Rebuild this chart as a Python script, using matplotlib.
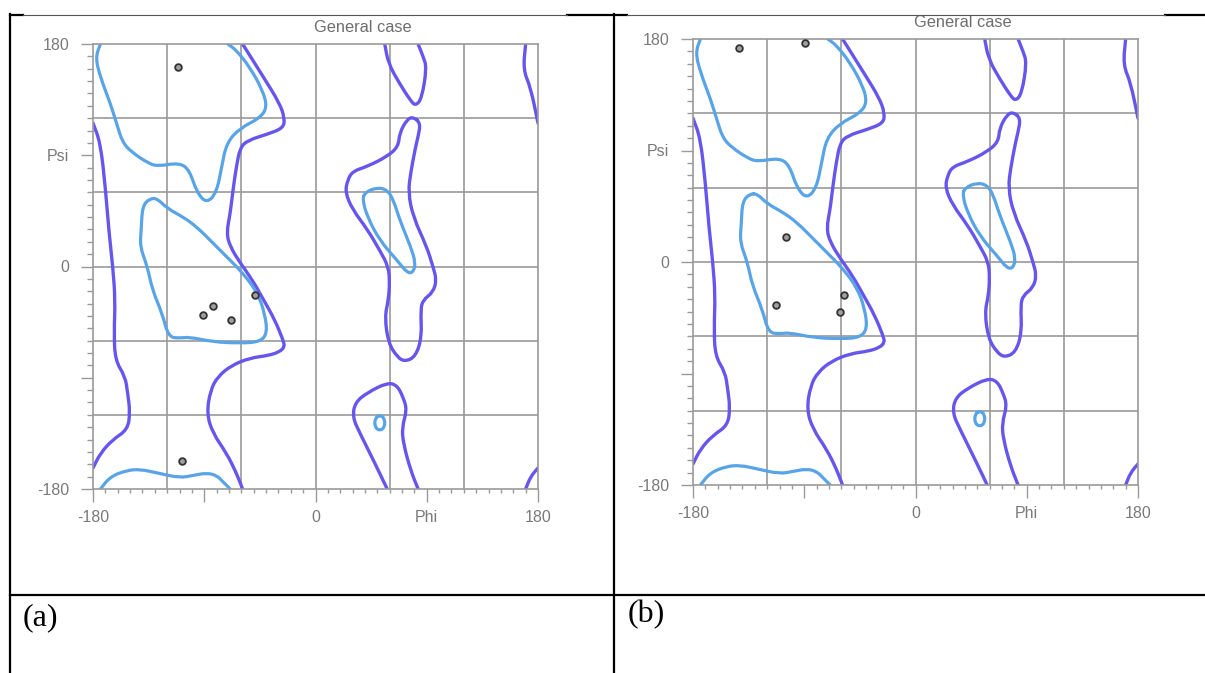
import numpy as np
import matplotlib.pyplot as plt
from matplotlib.lines import Line2D
from matplotlib.path import Path
from matplotlib.patches import PathPatch

plt.rcParams['font.family'] = ['Liberation Sans', 'DejaVu Sans']

# Contours of the "General case" background, as (phi, psi) vertices
allowed_left = [(-180, 116), (-174, 100), (-170, 64), (-167, 27), (-164, 0), (-162, -27),
                (-163, -54), (-162, -76), (-154, -89), (-152, -102), (-150, -118),
                (-152, -132), (-164, -140), (-174, -151), (-180, -163)]
allowed_right = [(-59, 180), (-42, 153), (-29, 132), (-25, 120), (-26, 112), (-39, 107),
                 (-55, 102), (-61, 96), (-64, 81), (-67, 60), (-69, 43), (-72, 27),
                 (-69, 16), (-61, 3), (-51, -11), (-42, -27), (-33, -43), (-26, -60),
                 (-25, -65), (-29, -69), (-38, -72), (-53, -74), (-68, -80), (-79, -89),
                 (-85, -100), (-88, -119), (-83, -135), (-72, -151), (-64, -167), (-59, -180)]
allowed_l_top = [(56, 180), (59, 164), (68, 148), (77, 134), (81, 130), (86, 136),
                 (90, 161), (87, 170), (83, 180)]
allowed_l_mid = [(79, 121), (74, 119), (68, 108), (67, 97), (58, 89), (42, 81), (30, 77),
                 (26, 70), (24, 60), (30, 46), (42, 30), (52, 13), (59, 0), (60, -13),
                 (59, -27), (56, -41), (59, -62), (66, -73), (72, -77), (81, -73),
                 (86, -57), (85, -35), (87, -27), (95, -21), (98, -11), (95, 0),
                 (90, 16), (79, 40), (75, 60), (77, 76), (81, 97), (83, 105),
                 (85, 116), (79, 121)]
allowed_l_low = [(58, -180), (47, -157), (36, -135), (30, -122), (32, -110), (42, -102),
                 (58, -94), (66, -96), (71, -106), (74, -116), (70, -130), (71, -143),
                 (77, -165), (83, -180)]
allowed_edge_top = [(170, 180), (168, 159), (174, 145), (180, 116)]
allowed_edge_bottom = [(170, -180), (174, -170), (180, -163)]

favored_beta_top = [(-174, 180), (-178, 169), (-174, 153), (-166, 132), (-161, 116),
                    (-156, 100), (-148, 92), (-136, 84), (-128, 81), (-110, 84),
                    (-102, 78), (-96, 60), (-88, 51), (-80, 60), (-76, 80), (-72, 100),
                    (-61, 112), (-45, 120), (-39, 129), (-43, 143), (-53, 161),
                    (-64, 175), (-71, 180)]
favored_beta_bottom = [(-174, -180), (-166, -170), (-153, -165), (-142, -164),
                       (-128, -167), (-110, -171), (-99, -169), (-88, -167),
                       (-80, -169), (-75, -174), (-69, -180)]
favored_alpha = [(-134, 55), (-140, 49), (-141, 30), (-142, 16), (-136, 0), (-132, -19),
                 (-124, -38), (-119, -57), (-110, -58), (-102, -57), (-83, -61),
                 (-61, -62), (-45, -61), (-39, -54), (-41, -38), (-47, -21), (-59, -5),
                 (-72, 8), (-83, 19), (-96, 32), (-107, 40), (-120, 47), (-128, 55),
                 (-134, 55)]
favored_l = [(40, 60), (50, 64), (58, 62), (63, 54), (68, 38), (77, 16), (81, 3),
             (79, -5), (74, -5), (66, 5), (52, 21), (42, 40), (38, 54), (40, 60)]
favored_small = [(52, -120), (56, -123), (56, -130), (52, -133), (48, -130),
                 (48, -123), (52, -120)]

allowed = [allowed_left, allowed_right, allowed_l_top, allowed_l_mid, allowed_l_low,
           allowed_edge_top, allowed_edge_bottom]
favored = [favored_beta_top, favored_beta_bottom, favored_alpha, favored_l, favored_small]

# Residues
phi_a = [-111, -49, -83, -91, -68, -108]
psi_a = [161, -23, -32, -39, -43, -157]
phi_b = [-143, -89, -105, -58, -113, -61]
psi_b = [173, 177, 20, -27, -35, -40]

major_ticks = [-180, -90, 0, 90, 180]
x_labels = ['-180', '', '0', 'Phi', '180']
y_labels = ['-180', '', '0', 'Psi', '180']

DARK = '#6656ee'
LIGHT = '#58a4e6'
GRID = '#9a9a9a'
TXT = '#7a7a7a'

W, H = 1205, 673
fig = plt.figure(figsize=(W / 100, H / 100), dpi=100)


def box(x0, y0, x1, y1):
    return [x0 / W, 1 - y1 / H, (x1 - x0) / W, (y1 - y0) / H]


def smooth_path(pts):
    # quadratic bezier through the midpoints, vertices used as control points
    p = np.array(pts, dtype=float)
    closed = np.allclose(p[0], p[-1])
    if closed:
        p = p[:-1]
        mids = (p + np.roll(p, -1, axis=0)) / 2
        verts = [mids[-1]]
        codes = [Path.MOVETO]
        for i in range(len(p)):
            verts += [p[i], mids[i]]
            codes += [Path.CURVE3, Path.CURVE3]
    else:
        mids = (p[:-1] + p[1:]) / 2
        verts = [p[0], mids[0]]
        codes = [Path.MOVETO, Path.LINETO]
        for i in range(1, len(p) - 1):
            verts += [p[i], mids[i]]
            codes += [Path.CURVE3, Path.CURVE3]
        verts.append(p[-1])
        codes.append(Path.LINETO)
    return Path(verts, codes)


def draw_panel(ax, phi, psi):
    for g in range(-120, 121, 60):
        ax.axvline(g, color=GRID, lw=1.2, zorder=0)
        ax.axhline(g, color=GRID, lw=1.2, zorder=0)
    for c in allowed:
        ax.add_patch(PathPatch(smooth_path(c), fill=False, ec=DARK, lw=2.4,
                               joinstyle='round', capstyle='round'))
    for c in favored:
        ax.add_patch(PathPatch(smooth_path(c), fill=False, ec=LIGHT, lw=2.3,
                               joinstyle='round', capstyle='round'))
    ax.plot(phi, psi, 'o', ms=4.8, mfc='#a0a0a0', mec='#333333', mew=1.3, zorder=5)

    ax.set_xlim(-180, 180)
    ax.set_ylim(-180, 180)
    ax.set_xticks(major_ticks)
    ax.set_xticklabels(x_labels)
    ax.set_yticks(major_ticks)
    ax.set_yticklabels(y_labels)
    ax.set_xticks(np.arange(-180, 181, 10), minor=True)
    ax.set_yticks(np.arange(-180, 181, 10), minor=True)
    for s in ax.spines.values():
        s.set_color(GRID)
        s.set_linewidth(1.2)
    ax.tick_params(which='major', length=9, width=1, color=GRID, labelsize=11.5,
                   labelcolor=TXT)
    ax.tick_params(axis='x', which='major', pad=6)
    ax.tick_params(axis='y', which='major', pad=8)
    ax.tick_params(axis='x', which='minor', length=3, width=1, color=GRID)
    ax.tick_params(axis='y', which='minor', length=4.5, width=1, color=GRID)
    ax.text(0.607, 1 + 16 / 445, 'General case', transform=ax.transAxes,
            ha='center', va='center', fontsize=11.8, color='#6e6e6e')


ax_a = fig.add_axes(box(93, 44, 538, 489))
draw_panel(ax_a, phi_a, psi_a)
ax_b = fig.add_axes(box(693, 39, 1138, 485))
draw_panel(ax_b, phi_b, psi_b)


# Table frame around the two panels
def rule(x0, y0, x1, y1, color='black', lw=1.6):
    fig.add_artist(Line2D([x0 / W, x1 / W], [1 - y0 / H, 1 - y1 / H],
                          transform=fig.transFigure, color=color, lw=lw))


rule(10, 15, 23, 15)
rule(567, 15, 627, 15)
rule(1165, 15, 1205, 15)
rule(23, 15, 567, 15, color='#555555', lw=0.8)
rule(627, 15, 1165, 15, color='#555555', lw=0.8)
rule(10, 14, 10, 673)
rule(614, 14, 614, 673)
rule(10, 595, 1205, 595)

fig.text(23 / W, 1 - 625 / H, '(a)', family='Liberation Serif', fontsize=23,
         va='baseline', ha='left')
fig.text(628 / W, 1 - 622 / H, '(b)', family='Liberation Serif', fontsize=23,
         va='baseline', ha='left')

fig.savefig('out.png', dpi=100)
